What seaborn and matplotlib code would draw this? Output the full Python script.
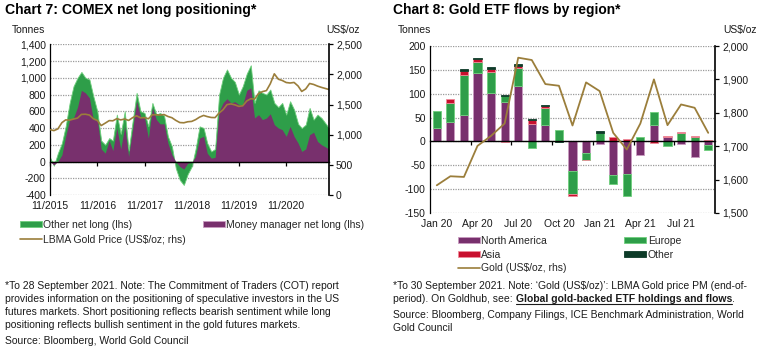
import numpy as np
import pandas as pd
import seaborn as sns
import matplotlib
matplotlib.use("Agg")
import matplotlib.pyplot as plt
import matplotlib.dates as mdates
from matplotlib.patches import Patch
from matplotlib.lines import Line2D

# ---- Chart 7 data: COMEX positioning (tonnes), monthly, Nov 2015 - Sep 2021
comex_dates = list(pd.date_range("2015-11-01", periods=70, freq="MS")) + [pd.Timestamp("2021-09-28")]
total_net_long = [50, -50, 100, 220, 420, 700, 900, 1000, 1070, 1000, 980, 780, 600, 250, 200, 280, 250, 560, 330, 600, 130, 480, 820, 600,
                  580, 420, 700, 560, 580, 550, 300, 180, -80, -220, -280, -150, -60, 150, 420, 400, 220, 120, 150, 800, 1000, 1100, 1000,
                  950, 800, 900, 1050, 1150, 700, 850, 820, 800, 860, 700, 650, 700, 560, 720, 620, 450, 400, 440, 640, 500, 560, 520, 400]
money_manager = [0, -40, 0, 80, 300, 500, 520, 650, 850, 820, 760, 500, 500, 150, 100, 250, 130, 400, 150, 420, 60, 380, 720, 540,
                 520, 280, 640, 500, 450, 450, 220, 80, 0, -60, -90, -20, -10, 60, 280, 300, 100, 40, 50, 600, 700, 750, 700,
                 715, 680, 680, 850, 880, 520, 560, 500, 520, 570, 440, 400, 380, 300, 420, 300, 220, 120, 150, 320, 350, 240, 200, 150]
lbma_gold = [1085, 1068, 1097, 1200, 1246, 1242, 1260, 1276, 1337, 1340, 1326, 1266, 1236, 1152, 1192, 1234, 1231, 1266, 1246, 1260,
             1237, 1283, 1314, 1280, 1283, 1265, 1331, 1331, 1325, 1335, 1303, 1282, 1238, 1202, 1198, 1215, 1221, 1250, 1292, 1320,
             1301, 1286, 1284, 1360, 1413, 1500, 1511, 1495, 1470, 1480, 1560, 1597, 1591, 1683, 1715, 1732, 1846, 2010, 1921, 1900,
             1866, 1858, 1867, 1808, 1718, 1760, 1850, 1834, 1807, 1785, 1750]
comex_tick_dates = pd.date_range("2015-11-01", periods=6, freq="12MS")
comex_tick_labels = ["11/2015", "11/2016", "11/2017", "11/2018", "11/2019", "11/2020"]

# ---- Chart 8 data: ETF flows by region (tonnes), Jan 2020 - Sep 2021
etf_months = ["Jan 20", "Feb 20", "Mar 20", "Apr 20", "May 20", "Jun 20", "Jul 20", "Aug 20", "Sep 20", "Oct 20", "Nov 20",
              "Dec 20", "Jan 21", "Feb 21", "Mar 21", "Apr 21", "May 21", "Jun 21", "Jul 21", "Aug 21", "Sep 21"]
north_america = [28, 41, 56, 143, 101, 83, 117, 37, 34, 0, -63, -25, -6, -70, -68, -29, 34, 10, -6, -32, -7]
europe = [35, 39, 83, 24, 45, 12, 37, -14, 36, 23, -48, -13, 18, -19, -46, 10, 27, -10, 18, 10, -10]
asia = [0, 8, 8, 6, 6, -1, 5, 8, 5, 0, -3, -1, 0, 9, 6, 0, -4, 2, 1, 1, 2]
other = [0, 0, 4, 2, 3, 3, 4, 2, 1, -2, 0, 0, 3, 0, 0, 0, 0, 0, 0, 0, 0]
etf_gold = [1583, 1610, 1608, 1701, 1731, 1768, 1965, 1958, 1886, 1881, 1762, 1891, 1865, 1740, 1690, 1768, 1900, 1763, 1825, 1815, 1740]
etf_label_months = ["Jan 20", "Apr 20", "Jul 20", "Oct 20", "Jan 21", "Apr 21", "Jul 21"]

sns.set_theme(style="white")
plt.rcParams['font.family'] = ['Liberation Sans', 'DejaVu Sans']
plt.rcParams['font.size'] = 7.5

GREEN = "#2e9e49"
GREEN_EDGE = "#6fcf7c"
PURPLE = "#78306d"
PURPLE_EDGE = "#c99bc0"
GOLD = "#9b7e3b"
RED = "#c8102e"
RED_EDGE = "#f08a9a"
DARK = "#0d3b28"
TXT = "#1a1a1a"
GRID = dict(color="#9a9a9a", linestyle=(0, (1, 1)), linewidth=0.9)

fig = plt.figure(figsize=(7.6, 3.51), dpi=100)


def style_axes(ax, axr):
    ax.set_axisbelow(True)
    ax.yaxis.grid(True, **GRID)
    ax.xaxis.grid(False)
    for s in ["top", "right"]:
        ax.spines[s].set_visible(False)
    for s in ["top", "left", "bottom"]:
        axr.spines[s].set_visible(False)
    ax.spines["left"].set_color("black")
    ax.spines["left"].set_linewidth(0.9)
    axr.spines["right"].set_color("black")
    axr.spines["right"].set_linewidth(1.2)
    ax.spines["bottom"].set_position(("data", 0))
    ax.spines["bottom"].set_color("black")
    ax.spines["bottom"].set_linewidth(1.0)
    ax.tick_params(axis="x", which="both", bottom=True, length=3, width=0.9, color="black",
                   direction="out", labelbottom=False)
    ax.tick_params(axis="y", length=0, pad=3, labelcolor=TXT, labelsize=7.5)
    axr.tick_params(axis="y", right=True, length=3, width=0.9, color="black", pad=2,
                    labelcolor=TXT, labelsize=7.5)
    axr.grid(False)


# ================= Chart 7 =================
ax1 = fig.add_axes([50 / 760, 1 - 195 / 351, 279 / 760, 150.7 / 351])
x1 = mdates.date2num(comex_dates)
ax1.fill_between(x1, 0, total_net_long, color=GREEN, edgecolor=GREEN_EDGE, linewidth=0.6)
ax1.fill_between(x1, 0, money_manager, color=PURPLE, linewidth=0)
ax1.set_xlim(x1[0], x1[-1])
ax1.set_ylim(-400, 1400)
yt = list(range(-400, 1401, 200))
ax1.set_yticks(yt)
ax1.set_yticklabels([f"{v:,}" for v in yt])
ax1.set_xticks(mdates.date2num(comex_tick_dates))

ax1r = ax1.twinx()
sns.lineplot(x=x1, y=lbma_gold, ax=ax1r, color=GOLD, linewidth=1.2)
ax1r.set_ylim(0, 2500)
rt = list(range(0, 2501, 500))
ax1r.set_yticks(rt)
ax1r.set_yticklabels([f"{v:,}" for v in rt])
ax1r.set_ylabel("")
style_axes(ax1, ax1r)

sec1 = ax1.secondary_xaxis("bottom")
sec1.set_xticks(mdates.date2num(comex_tick_dates))
sec1.set_xticklabels(comex_tick_labels)
sec1.tick_params(length=0, pad=4, labelsize=7.5, labelcolor=TXT)
sec1.spines["bottom"].set_visible(False)

fig.text(5 / 760, 1 - 10 / 351, "Chart 7: COMEX net long positioning*", fontsize=10.1,
         fontweight="bold", va="center", ha="left", color="black")
fig.text(12 / 760, 1 - 30 / 351, "Tonnes", fontsize=7.5, va="center", ha="left", color=TXT)
fig.text(360 / 760, 1 - 30 / 351, "US$/oz", fontsize=7.5, va="center", ha="right", color=TXT)

h1 = [Patch(facecolor=GREEN, edgecolor=GREEN_EDGE, linewidth=0.6, label="Other net long (lhs)"),
      Line2D([0], [0], color=GOLD, linewidth=1.2, label="LBMA Gold Price (US$/oz; rhs)"),
      Patch(facecolor=PURPLE, edgecolor=PURPLE_EDGE, linewidth=0.6, label="Money manager net long (lhs)")]
fig.legend(handles=h1, loc="upper left", bbox_to_anchor=(20 / 760, 1 - 220 / 351), ncol=2, frameon=False,
           fontsize=7.5, handlelength=2.1, handleheight=0.5, handletextpad=0.15, columnspacing=1.6,
           labelspacing=0.45, borderpad=0, borderaxespad=0)

fig.text(5 / 760, 1 - 281 / 351,
         "*To 28 September 2021. Note: The Commitment of Traders (COT) report\n"
         "provides information on the positioning of speculative investors in the US\n"
         "futures markets. Short positioning reflects bearish sentiment while long\n"
         "positioning reflects bullish sentiment in the gold futures markets.",
         fontsize=7.5, va="top", ha="left", linespacing=1.38, color=TXT)
fig.text(5 / 760, 1 - 341 / 351, "Source: Bloomberg, World Gold Council", fontsize=7.5,
         va="center", ha="left", color=TXT)

# ================= Chart 8 =================
ax2 = fig.add_axes([430 / 760, 1 - 213 / 351, 285 / 760, 167 / 351])
idx = np.arange(len(etf_months))
pos_bottom = np.zeros(len(idx))
neg_bottom = np.zeros(len(idx))
for vals, fc, ec in [(north_america, PURPLE, PURPLE_EDGE), (europe, GREEN, GREEN_EDGE),
                     (asia, RED, RED_EDGE), (other, DARK, DARK)]:
    v = np.array(vals, dtype=float)
    p = np.clip(v, 0, None)
    n = np.clip(v, None, 0)
    mp = p > 0
    mn = n < 0
    ax2.bar(idx[mp], p[mp], bottom=pos_bottom[mp], width=0.6, color=fc, edgecolor=ec, linewidth=0.6)
    ax2.bar(idx[mn], n[mn], bottom=neg_bottom[mn], width=0.6, color=fc, edgecolor=ec, linewidth=0.6)
    pos_bottom += p
    neg_bottom += n
ax2.set_xlim(-0.5, len(idx) - 0.5)
ax2.set_ylim(-150, 200)
yt2 = list(range(-150, 201, 50))
ax2.set_yticks(yt2)
ax2.set_yticklabels([f"{v:,}" for v in yt2])
ax2.set_xticks(np.arange(2.5, 18, 3))

ax2r = ax2.twinx()
sns.lineplot(x=idx, y=etf_gold, ax=ax2r, color=GOLD, linewidth=1.3)
ax2r.set_ylim(1500, 2000)
rt2 = list(range(1500, 2001, 100))
ax2r.set_yticks(rt2)
ax2r.set_yticklabels([f"{v:,}" for v in rt2])
ax2r.set_ylabel("")
style_axes(ax2, ax2r)

sec2 = ax2.secondary_xaxis("bottom")
sec2.set_xticks([etf_months.index(m) for m in etf_label_months])
sec2.set_xticklabels(etf_label_months)
sec2.tick_params(length=0, pad=4, labelsize=7.5, labelcolor=TXT)
sec2.spines["bottom"].set_visible(False)

fig.text(393 / 760, 1 - 10 / 351, "Chart 8: Gold ETF flows by region*", fontsize=9.95,
         fontweight="bold", va="center", ha="left", color="black")
fig.text(398 / 760, 1 - 30 / 351, "Tonnes", fontsize=7.5, va="center", ha="left", color=TXT)
fig.text(757 / 760, 1 - 30 / 351, "US$/oz", fontsize=7.5, va="center", ha="right", color=TXT)

h2 = [Patch(facecolor=PURPLE, edgecolor=PURPLE_EDGE, linewidth=0.6, label="North America"),
      Patch(facecolor=RED, edgecolor=RED_EDGE, linewidth=0.6, label="Asia"),
      Line2D([0], [0], color=GOLD, linewidth=1.2, label="Gold (US$/oz, rhs)"),
      Patch(facecolor=GREEN, edgecolor=GREEN_EDGE, linewidth=0.6, label="Europe"),
      Patch(facecolor=DARK, edgecolor=DARK, linewidth=0.6, label="Other")]
fig.legend(handles=h2, loc="upper left", bbox_to_anchor=(458 / 760, 1 - 236 / 351), ncol=2, frameon=False,
           fontsize=7.5, handlelength=2.1, handleheight=0.5, handletextpad=0.15, columnspacing=5.5,
           labelspacing=0.34, borderpad=0, borderaxespad=0)

fig.text(393 / 760, 1 - 286 / 351,
         "*To 30 September 2021. Note: \u2018Gold (US$/oz)\u2019: LBMA Gold price PM (end-of-",
         fontsize=7.5, va="center", ha="left", color=TXT)
# second line: normal + bold underlined link text + full stop
fig.canvas.draw()
renderer = fig.canvas.get_renderer()
t_a = fig.text(393 / 760, 1 - 299 / 351, "period). On Goldhub, see: ", fontsize=7.5,
               va="center", ha="left", color=TXT)
bb = t_a.get_window_extent(renderer).transformed(fig.transFigure.inverted())
t_b = fig.text(bb.x1, 1 - 299 / 351, "Global gold-backed ETF holdings and flows", fontsize=7.5,
               fontweight="bold", va="center", ha="left", color=TXT)
bb2 = t_b.get_window_extent(renderer).transformed(fig.transFigure.inverted())
fig.text(bb2.x1, 1 - 299 / 351, ".", fontsize=7.5, va="center", ha="left", color=TXT)
fig.add_artist(Line2D([bb2.x0, bb2.x1], [bb2.y0 + 0.001, bb2.y0 + 0.001], color=TXT,
                      linewidth=0.8, transform=fig.transFigure))
fig.text(393 / 760, 1 - 310 / 351,
         "Source: Bloomberg, Company Filings, ICE Benchmark Administration, World\nGold Council",
         fontsize=7.5, va="top", ha="left", linespacing=1.35, color=TXT)

fig.savefig("out.png", dpi=100)
